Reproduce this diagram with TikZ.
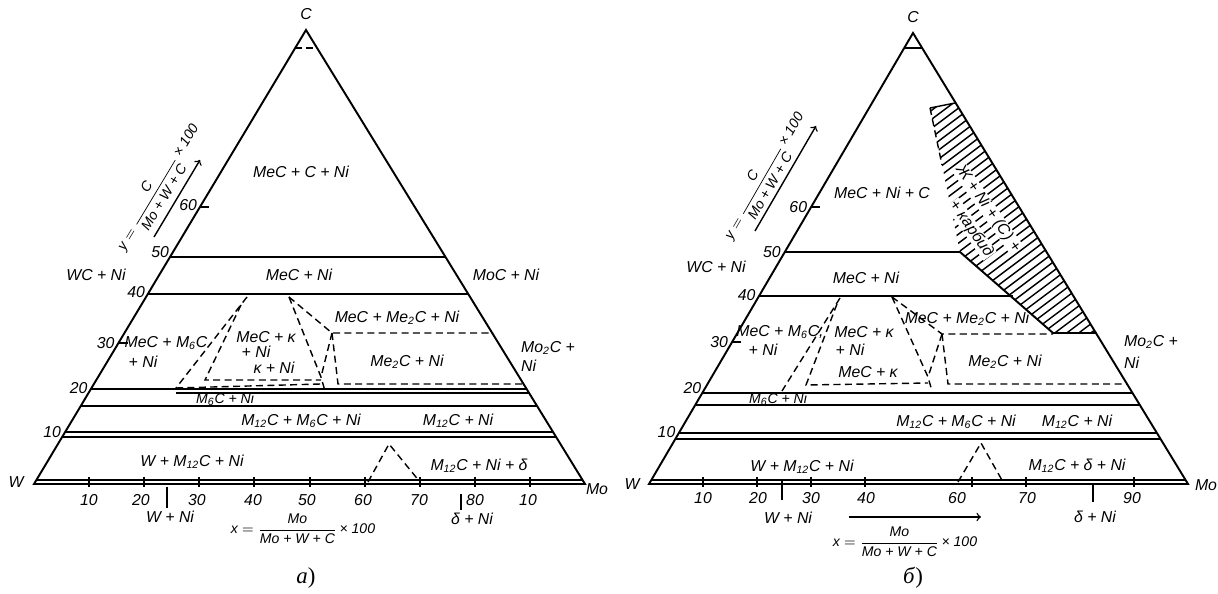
\documentclass[tikz,border=0pt]{standalone}
\usepackage{fontspec}
\setmainfont{Liberation Serif}
\newfontfamily\lblfont{Liberation Sans}
\newcommand\lo[1]{\textsubscript{#1}}
\begin{document}
\begin{tikzpicture}[x=0.02cm,y=-0.02cm,
  lbl/.style={font=\lblfont\itshape\fontsize{9}{10.5}\selectfont,inner sep=1pt},
  frm/.style={font=\lblfont\itshape\fontsize{8}{9}\selectfont,inner sep=1pt},
  title/.style={font=\fontsize{13}{15}\selectfont,inner sep=1pt},
  rim/.style={line width=1.1pt,line join=miter},
  fine/.style={line width=0.8pt},
  bnd/.style={line width=0.8pt,dash pattern=on 4pt off 2.5pt}]
\useasboundingbox (0,0) rectangle (1218,594);

% a)
\coordinate (Wa) at (34,484);
\coordinate (Moa) at (585,484);
\coordinate (Ca) at (306,30);
\draw[rim] (Wa) -- (Ca) -- (Moa) -- cycle;
\draw[fine] (36,480) -- (583,480);
\draw[bnd] (295,48) -- (317,48);
\draw[rim] (170,257) -- (446,257);
\draw[rim] (148,294) -- (468,294);
\draw[rim] (91,389) -- (527,389);
\draw[fine] (176,393) -- (529,393);
\draw[rim] (81,406) -- (537,406);
\draw[rim] (65,432) -- (553,432);
\draw[fine] (62,437) -- (556,437);
\draw[fine] (200,207) -- (209,207);
\draw[fine] (118,343) -- (128,343);

\draw[bnd] (247,297) -- (176,388);
\draw[bnd] (241,305) -- (205,380) -- (321,380);
\draw[bnd] (176,388) -- (321,384);
\draw[bnd] (289,297) -- (321,377) -- (325,391);
\draw[bnd] (289,297) -- (332,333) -- (493,333);
\draw[bnd] (332,333) -- (321,377);
\draw[bnd] (332,333) -- (338,384) -- (525,384);
\draw[bnd] (368,482) -- (389,444) -- (420,482);

\foreach \x in {89,144,199,254,310,365,420,475,530}
  \draw[fine] (\x,477) -- (\x,487);
\foreach \x/\t in {89/10,141/20,197/30,253/40,307/50,363/60,419/70,475/80,528/10}
  \node[lbl] (xa-\x) at (\x,500) {\t};
\foreach \y/\t in {205/60,252/50,292/40,343/30,388/20,432/10}
  \node[lbl,anchor=east] (ya-\y) at ({34+0.5991*(484-\y)-2},\y) {\t};

\draw[fine] (167,487) -- (167,508);
\draw[fine] (461,494) -- (461,510);
\node[lbl] (aWNi) at (170,517) {W + Ni};
\node[lbl] (adNi) at (472,519) {δ + Ni};

\node[lbl] (aC) at (306,14) {C};
\node[lbl] (aW) at (16,482) {W};
\node[lbl] (aMo) at (597,489) {Mo};
\node[lbl] (a1) at (301,172) {MeC + C + Ni};
\node[lbl] (a2) at (96,275) {WC + Ni};
\node[lbl] (a3) at (299,275) {MeC + Ni};
\node[lbl] (a4) at (506,275) {MoC + Ni};
\node[lbl] (a5) at (397,318) {MeC + Me\lo{2}C + Ni};
\node[lbl] (a6) at (166,343) {MeC + M\lo{6}C};
\node[lbl] (a7) at (143,362) {+ Ni};
\node[lbl] (a8) at (266,337) {MeC + κ};
\node[lbl] (a9) at (256,352) {+ Ni};
\node[lbl] (a10) at (274,368) {κ + Ni};
\node[lbl] (a11) at (407,362) {Me\lo{2}C + Ni};
\node[lbl,anchor=west] (a12) at (519,348) {Mo\lo{2}C +};
\node[lbl,anchor=west] (a13) at (519,366) {Ni};
\node[frm] (a14) at (225,399.5) {M\lo{6}C + Ni};
\node[lbl] (a15) at (301,421) {M\lo{12}C + M\lo{6}C + Ni};
\node[lbl] (a16) at (458,421) {M\lo{12}C + Ni};
\node[lbl] (a17) at (192,462) {W + M\lo{12}C + Ni};
\node[lbl] (a18) at (479,466) {M\lo{12}C + Ni + δ};

\node[frm,rotate=59] (yfa) at (158,187)
  {$\mbox{y} = \displaystyle\frac{\mbox{C}}{\mbox{Mo + W + C}}\,\mbox{× 100}$};
\coordinate (yaa) at (154,237);
\coordinate (yab) at (200,160);
\draw[fine,->] (yaa) -- (yab);
\node[frm] (xfa) at (303,529)
  {$\mbox{x} = \displaystyle\frac{\mbox{Mo}}{\mbox{Mo + W + C}}\,\mbox{× 100}$};
\node[title] (capa) at (306,578) {\textit{a})};

% b)
\coordinate (Wb) at (649,484);
\coordinate (Mob) at (1188,484);
\coordinate (Cb) at (913,33);
\begin{scope}
  \clip (930,108) -- (942,165) -- (960,252) -- (1053,333) -- (1096,333) -- (955,103) -- cycle;
  \foreach \k in {0,...,40}
    \draw[fine] (880,{140+9*\k}) -- (1120,{140+9*\k-0.75*240});
\end{scope}
\draw[rim] (Wb) -- (Cb) -- (Mob) -- cycle;
\draw[fine] (651,480) -- (1186,480);
\draw[fine] (904,48) -- (922,48);
\draw[bnd] (930,108) -- (942,165);
\draw[fine] (930,108) -- (955,103);
\draw[rim] (785,252) -- (960,252) -- (1053,333) -- (1096,333);
\draw[rim] (759,296) -- (1013,296);
\draw[rim] (702,393) -- (1132,393);
\draw[rim] (696,405) -- (1139,405);
\draw[rim] (679,433) -- (1157,433);
\draw[fine] (675,439) -- (1160,439);
\draw[fine] (811,207) -- (820,207);
\draw[fine] (732,342) -- (741,342);

\draw[bnd] (840,298) -- (782,391);
\draw[bnd] (837,304) -- (806,385) -- (928,383);
\draw[bnd] (892,297) -- (928,377) -- (932,391);
\draw[bnd] (892,297) -- (942,334) -- (1053,334);
\draw[bnd] (942,334) -- (928,377);
\draw[bnd] (942,334) -- (948,384) -- (1127,384);
\draw[bnd] (958,482) -- (981,443) -- (1003,482);

\foreach \x in {703,757,811,865,972,1026,1134}
  \draw[fine] (\x,477) -- (\x,487);
\foreach \x/\t in {703/10,758/20,811/30,866/40,957/60,1027/70,1132/90}
  \node[lbl] (xb-\x) at (\x,498) {\t};
\foreach \y/\t in {207/60,252/50,295/40,342/30,388/20,432/10}
  \node[lbl,anchor=east] (yb-\y) at ({649+0.5854*(484-\y)-2},\y) {\t};

\draw[fine] (782,481) -- (782,500);
\draw[fine] (1093,484) -- (1093,502);
\node[lbl] (bWNi) at (788,518) {W + Ni};
\node[lbl] (bdNi) at (1095,517) {δ + Ni};

\node[lbl] (bC) at (913,17) {C};
\node[lbl] (bW) at (632,484) {W};
\node[lbl] (bMo) at (1206,485) {Mo};
\node[lbl] (b1) at (882,193) {MeC + Ni + C};
\node[lbl] (b2) at (716,267) {WC + Ni};
\node[lbl] (b3) at (866,278) {MeC + Ni};
\node[lbl,rotate=-55,fill=white,inner sep=0.3pt] (b4) at (988,209) {Ж + Ni + (C) +};
\node[lbl,rotate=-55,fill=white,inner sep=0.3pt] (b5) at (971,229) {+ карбид};
\node[lbl] (b6) at (967,319) {MeC + Me\lo{2}C + Ni};
\node[lbl] (b7) at (780,332) {MeC + M\lo{6}C,};
\node[lbl] (b8) at (763,350) {+ Ni};
\node[lbl] (b9) at (864,332) {MeC + κ};
\node[lbl] (b10) at (850,350) {+ Ni};
\node[lbl] (b11) at (868,372) {MeC + κ};
\node[lbl] (b12) at (1005,362) {Me\lo{2}C + Ni};
\node[lbl,anchor=west] (b13) at (1122,342) {Mo\lo{2}C +};
\node[lbl,anchor=west] (b14) at (1122,363) {Ni};
\node[frm] (b15) at (778,399.5) {M\lo{6}C + Ni};
\node[lbl] (b16) at (956,422) {M\lo{12}C + M\lo{6}C + Ni};
\node[lbl] (b17) at (1077,422) {M\lo{12}C + Ni};
\node[lbl] (b18) at (802,467) {W + M\lo{12}C + Ni};
\node[lbl] (b19) at (1077,466) {M\lo{12}C + δ + Ni};

\node[frm,rotate=60] (yfb) at (764,176)
  {$\mbox{y} = \displaystyle\frac{\mbox{C}}{\mbox{Mo + W + C}}\,\mbox{× 100}$};
\coordinate (yba) at (755,231);
\coordinate (ybb) at (816,126);
\draw[fine,->] (yba) -- (ybb);
\coordinate (xba) at (849,517);
\coordinate (xbb) at (981,517);
\draw[fine,->] (xba) -- (xbb);
\node[frm] (xfb) at (905,542)
  {$\mbox{x} = \displaystyle\frac{\mbox{Mo}}{\mbox{Mo + W + C}}\,\mbox{× 100}$};
\node[title] (capb) at (913,578) {\textit{б})};
\end{tikzpicture}
\end{document}
